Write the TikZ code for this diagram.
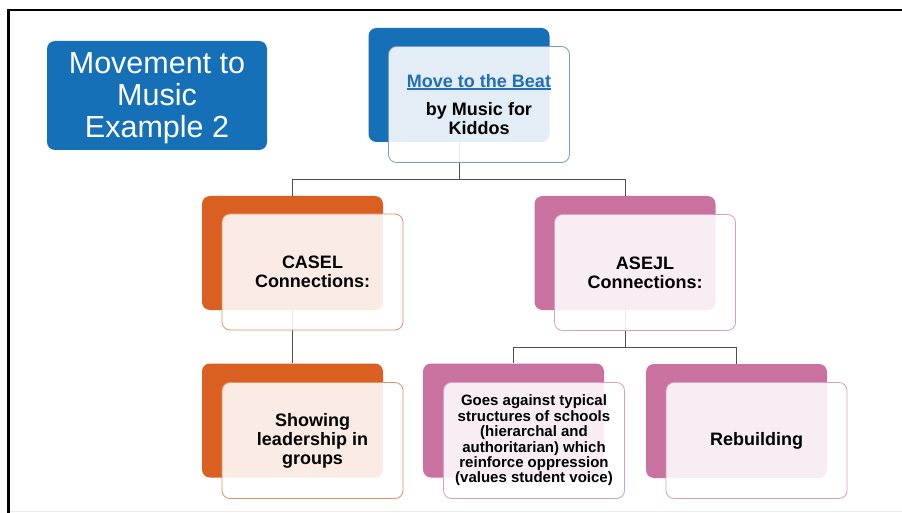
\documentclass[tikz,border=0pt]{standalone}
\usepackage{fontspec}
\setmainfont{Liberation Sans}
\definecolor{titleblue}{RGB}{22,112,184}
\definecolor{topedge}{RGB}{125,155,192}
\definecolor{casorange}{RGB}{217,96,33}
\definecolor{casedge}{RGB}{226,145,105}
\definecolor{aspink}{RGB}{201,114,160}
\definecolor{asedge}{RGB}{214,160,190}
\definecolor{linkgray}{RGB}{80,80,80}
\definecolor{beatblue}{RGB}{35,110,180}
% underlined link-style text with a slightly heavier rule
\newcommand{\beatline}[1]{\setbox0\hbox{#1}\leavevmode\rlap{\rule[-2.4pt]{\wd0}{1.4pt}}\box0}
\begin{document}
\begin{tikzpicture}[x=1pt,y=-1pt,
  backbox/.style={rounded corners=8pt, minimum width=181pt, minimum height=114pt, inner sep=0pt},
  frontbox/.style={draw, line width=0.8pt, fill=white, fill opacity=0.88, text opacity=1,
    rounded corners=8pt, minimum width=181pt, minimum height=116pt, inner sep=0pt,
    align=center, font=\fontsize{18}{19}\selectfont\bfseries},
  link/.style={draw=linkgray, line width=0.9pt},
]
\useasboundingbox (0,0) rectangle (902,513);
\fill[white] (0,0) rectangle (902,513);

% page frame
\draw[line width=2.5pt, black] (8.5,513) -- (8.5,10) -- (902,10);
\draw[line width=1pt, gray!15] (10,511) -- (902,511);

% title badge
\node[fill=titleblue, rounded corners=8pt, minimum width=220pt, minimum height=109pt,
  inner sep=0pt] (title) at (157,95.5) {};
\node[align=center, text=white, inner sep=0pt, font=\fontsize{30.5}{32}\selectfont]
  (titletext) at ([yshift=-3pt]title.center) {Movement to\\Music\\Example 2};

% coloured back panels
\node[backbox, fill=titleblue] (topB) at (459,85) {};
\node[backbox, fill=casorange] (caselB) at (292.5,253) {};
\node[backbox, fill=aspink] (asejlB) at (625,253) {};
\node[backbox, fill=casorange] (showB) at (292.5,420.5) {};
\node[backbox, fill=aspink] (goesB) at (513.5,420.5) {};
\node[backbox, fill=aspink] (rebB) at (736.5,421) {};

% bus levels for the connectors
\coordinate (busA) at (0,179);
\coordinate (busB) at (0,347);

% connectors
\draw[link] (topB.south) -- (topB.south |- busA) -| (caselB.north);
\draw[link] (topB.south |- busA) -| (asejlB.north);
\draw[link] (caselB.south) -- (showB.north);
\draw[link] (asejlB.south) -- (asejlB.south |- busB) -| (goesB.north);
\draw[link] (asejlB.south |- busB) -| (rebB.north);

% translucent front cards
\node[frontbox, draw=topedge] (topF) at (479,104.5)
  {{\color{beatblue}\beatline{Move to the Beat}}\\[9pt]by Music for\\Kiddos};
\node[frontbox, draw=casedge] (caselF) at (312.5,272) {CASEL\\Connections:};
\node[frontbox, draw=asedge] (asejlF) at (645,272.5) {ASEJL\\Connections:};
\node[frontbox, draw=casedge] (showF) at (312.5,440.5) {Showing\\leadership in\\groups};
\node[frontbox, draw=asedge, font=\fontsize{15}{15.4}\selectfont\bfseries] (goesF) at (534,440.5)
  {Goes against typical\\structures of schools\\(hierarchal and\\authoritarian) which\\reinforce oppression\\(values student voice)};
\node[frontbox, draw=asedge] (rebF) at (756.5,440.5) {Rebuilding};
\end{tikzpicture}
\end{document}
